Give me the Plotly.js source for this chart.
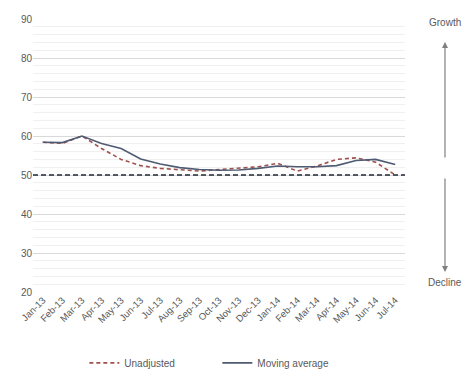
<!DOCTYPE html>
<html>
<head>
<meta charset="utf-8">
<script src="https://cdn.plot.ly/plotly-3.0.1.min.js"></script>
<style>html,body{margin:0;padding:0;background:#fff;}#chart{width:467px;height:388px;}</style>
</head>
<body>
<div id="chart"></div>
<script>
var months = ['Jan-13','Feb-13','Mar-13','Apr-13','May-13','Jun-13','Jul-13','Aug-13','Sep-13','Oct-13','Nov-13','Dec-13','Jan-14','Feb-14','Mar-14','Apr-14','May-14','Jun-14','Jul-14'];
var unadjusted = [58.4, 58.1, 60.0, 56.8, 54.0, 52.4, 51.7, 51.3, 51.0, 51.4, 51.7, 52.1, 53.0, 51.0, 52.3, 54.0, 54.4, 53.3, 50.0];
var movingAverage = [58.4, 58.3, 60.0, 58.1, 56.8, 54.1, 52.8, 51.9, 51.4, 51.2, 51.3, 51.7, 52.3, 52.1, 52.1, 52.4, 53.7, 54.0, 52.7];
var threshold = 50;
var yTicks = [20, 30, 40, 50, 60, 70, 80, 90];

var font = 'Liberation Sans, Arial, sans-serif';
var traces = [
  {x: months, y: unadjusted, name: 'Unadjusted', type: 'scatter', mode: 'lines',
   line: {color: '#a0504c', width: 1.6, dash: '4px,3px'}},
  {x: months, y: movingAverage, name: 'Moving average', type: 'scatter', mode: 'lines',
   line: {color: '#4f5b72', width: 1.6}}
];
var layout = {
  width: 467, height: 388,
  margin: {l: 33, r: 62, t: 19, b: 95},
  paper_bgcolor: '#fff', plot_bgcolor: '#fff',
  font: {family: font, size: 10, color: '#595959'},
  showlegend: true,
  legend: {orientation: 'h', x: 0.138, y: -0.255, xanchor: 'left', yanchor: 'middle',
           font: {size: 10, color: '#595959'}, entrywidth: 88, entrywidthmode: 'pixels'},
  xaxis: {type: 'category', range: [-0.5, 18.5], tickangle: -45, showgrid: false,
          showline: false, zeroline: false, ticks: '', tickfont: {size: 9.5, color: '#595959'}},
  yaxis: {range: [20, 90], tickvals: yTicks, showgrid: true, gridcolor: '#d9d9d9', gridwidth: 1,
          zeroline: false, showline: false, ticks: '', tickfont: {size: 10, color: '#595959'},
          minor: {dtick: 2, showgrid: true, gridcolor: '#f0f0f0', gridwidth: 1}},
  shapes: [
    {type: 'line', xref: 'paper', x0: 0, x1: 1, yref: 'y', y0: threshold, y1: threshold,
     line: {color: '#1f2937', width: 1.5, dash: '5px,3px'}}
  ],
  annotations: [
    {xref: 'paper', yref: 'paper', x: 1.1075, y: 0.989, xanchor: 'center', yanchor: 'middle',
     text: 'Growth', showarrow: false, font: {size: 10, color: '#595959'}},
    {xref: 'paper', yref: 'paper', x: 1.1075, y: 0.033, xanchor: 'center', yanchor: 'middle',
     text: 'Decline', showarrow: false, font: {size: 10, color: '#595959'}},
    {xref: 'paper', yref: 'paper', x: 1.1075, y: 0.916, text: '', showarrow: true,
     axref: 'pixel', ayref: 'pixel', ax: 0, ay: 117, arrowhead: 2, arrowsize: 1,
     arrowwidth: 1.2, arrowcolor: '#808080'},
    {xref: 'paper', yref: 'paper', x: 1.1075, y: 0.073, text: '', showarrow: true,
     axref: 'pixel', ayref: 'pixel', ax: 0, ay: -95, arrowhead: 2, arrowsize: 1,
     arrowwidth: 1.2, arrowcolor: '#808080'}
  ]
};
Plotly.newPlot('chart', traces, layout, {displayModeBar: false, staticPlot: true});
</script>
</body>
</html>
